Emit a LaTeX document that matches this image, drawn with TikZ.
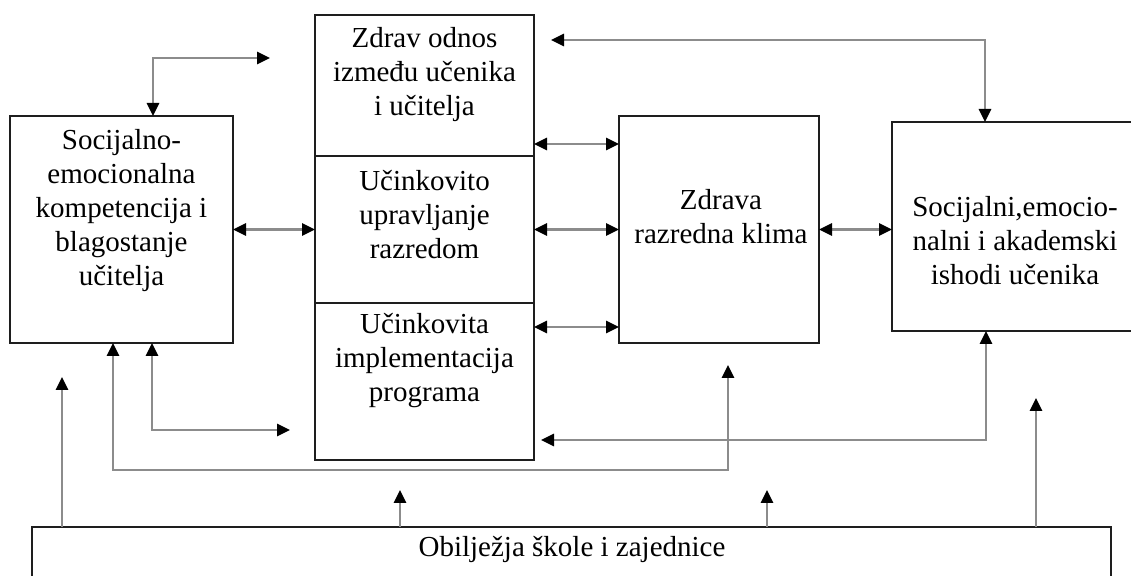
\documentclass[tikz,border=0pt]{standalone}
\usepackage{fontspec}
\setmainfont{Liberation Serif}
\usepackage{xcolor}
\usepackage{tikz}
\usetikzlibrary{positioning,calc,arrows.meta}

\begin{document}
\begin{tikzpicture}[x=0.5pt, y=-0.5pt]
	\definecolor{skline}{RGB}{140,140,140}
	\definecolor{skborder}{RGB}{30,30,30}
	\tikzset{
		skbox/.style={
			draw=skborder,
			line width=1.1pt,
			fill=white,
			inner sep=0pt,
			outer sep=0pt
		},
		sktext/.style={align=center, inner sep=0pt, font=\fontsize{14.5}{17}\selectfont, text=black},
		sklink/.style={draw=skline, line width=1.3pt},
		dbl/.style={sklink, {Triangle[length=6.5pt,width=6pt,color=black]}-{Triangle[length=6.5pt,width=6pt,color=black]}},
		sgl/.style={sklink, -{Triangle[length=6.5pt,width=6pt,color=black]}}
	}
	\useasboundingbox (0,0) rectangle (1131,576);
	
	% kutije
	\node[skbox, minimum width=109.5pt, minimum height=70.5pt] (M1) at (424.5,85.5) {};
	\node[skbox, minimum width=109.5pt, minimum height=73.5pt, below=0pt of M1] (M2) {};
	\node[skbox, minimum width=109.5pt, minimum height=78.5pt, below=0pt of M2] (M3) {};
	\node[skbox, minimum width=111.5pt, minimum height=113.5pt, left=41pt of M2] (L) {};
	\node[skbox, minimum width=100pt, minimum height=113.5pt, right=42.5pt of M2] (C) {};
	\node[skbox, minimum width=123pt, minimum height=104.5pt] (O) at (1015,226.5) {};
	\node[skbox, minimum width=539.5pt, minimum height=32.5pt] (B) at (571.5,559.5) {};
	
	\node[sktext] (Lt) at (121.5,211) {Socijalno-\\emocionalna\\kompetencija i\\blagostanje\\učitelja};
	\node[sktext] (M1t) at (424.5,75) {Zdrav odnos\\između učenika\\i učitelja};
	\node[sktext] (M2t) at (424.5,215) {Učinkovito\\upravljanje\\razredom};
	\node[sktext] (M3t) at (424.5,361) {Učinkovita\\implementacija\\programa};
	\node[sktext] (Ct) at (721,217) {Zdrava\\razredna klima};
	\node[sktext] (Ot) at (1015,241) {Socijalni,emocio-\\nalni i akademski\\ishodi učenika};
	\node[sktext] (Bt) at (572,550) {Obilježja škole i zajednice};
	
	% veze
	\coordinate (tl) at (153,58);
	\coordinate (tle) at (270,58);
	\coordinate (tr) at (985,40);
	\coordinate (tre) at (551,40);
	\coordinate (r1) at (0,144);
	\coordinate (r3) at (0,327);
	\coordinate (lb1) at (152,430);
	\coordinate (lb1e) at (290,430);
	\coordinate (lb2) at (113,470);
	\coordinate (cb) at (728,365);
	\coordinate (ob) at (986,440);
	\coordinate (obe) at (541,440);
	
	\draw[dbl] (tl |- L.north) -- (tl) -- (tle);
	\draw[dbl] (tre) -- (tr) -- (tr |- O.north);
	\draw[dbl] (L) -- (M2);
	\draw[dbl] (M1.east |- r1) -- (C.west |- r1);
	\draw[dbl] (M2) -- (C);
	\draw[dbl] (M3.east |- r3) -- (C.west |- r3);
	\draw[dbl] (C.east) -- (C.east -| O.west);
	\draw[dbl] (lb1 |- L.south) -- (lb1) -- (lb1e);
	\draw[dbl] (lb2 |- L.south) -- (lb2) -| (cb);
	\draw[dbl] (ob |- O.south) -- (ob) -- (obe);
	
	\foreach \ux/\uy in {62/377, 400/490, 767/490, 1036/398}
	\draw[sgl] (\ux,527) -- (\ux,\uy);
\end{tikzpicture}
\end{document}
